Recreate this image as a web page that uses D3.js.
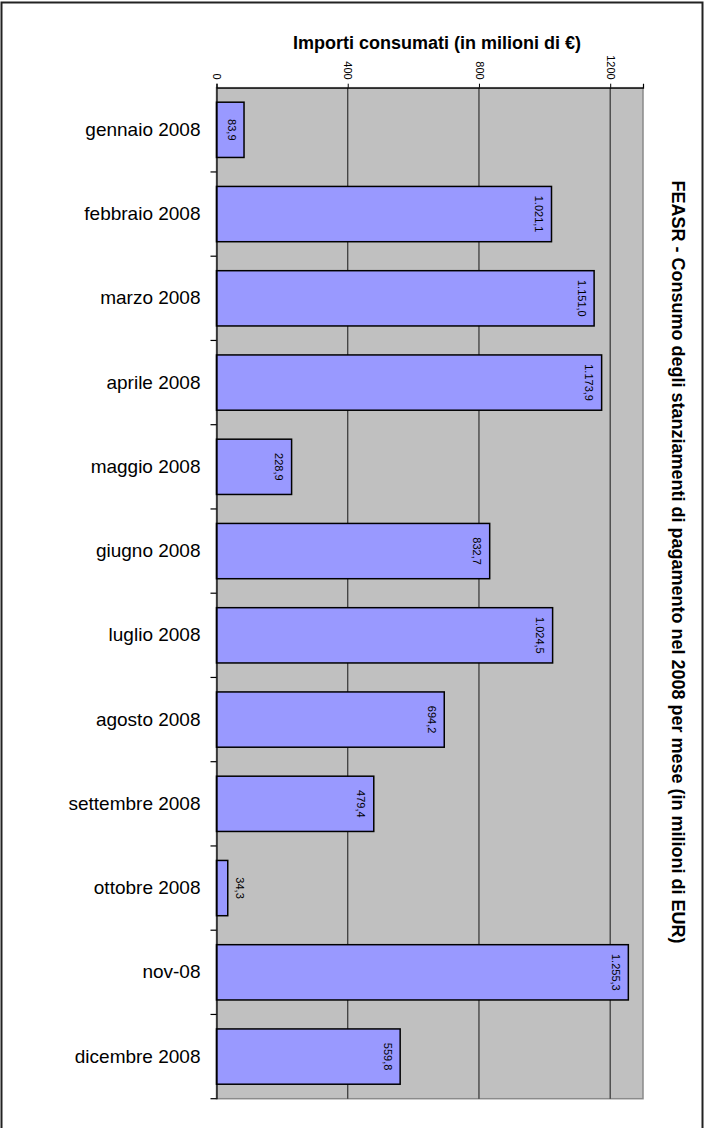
<!DOCTYPE html>
<html>
<head>
<meta charset="utf-8">
<script src="https://cdn.jsdelivr.net/npm/d3@7"></script>
<style>
  html, body { margin: 0; padding: 0; background: #fff; }
  svg { display: block; font-family: Arial, "Liberation Sans", sans-serif; }
</style>
</head>
<body>
<div id="chart-container"></div>
<script>
// dati
const months = ["gennaio 2008", "febbraio 2008", "marzo 2008", "aprile 2008", "maggio 2008",
  "giugno 2008", "luglio 2008", "agosto 2008", "settembre 2008", "ottobre 2008", "nov-08", "dicembre 2008"];
const amounts = [83.9, 1021.1, 1151.0, 1173.9, 228.9, 832.7, 1024.5, 694.2, 479.4, 34.3, 1255.3, 559.8];
const xTicks = [0, 400, 800, 1200];
const xMax = 1300;

const width = 708, height = 1128;
const plot = {left: 216.5, right: 643, top: 87.7, bottom: 1098.7};

const it = d3.formatLocale({decimal: ",", thousands: ".", grouping: [3], currency: ["", "€"]});
const fmt = it.format(",.1f");

const data = months.map((m, i) => ({month: m, value: amounts[i]}));

const svg = d3.select("#chart-container")
  .append("svg")
  .attr("width", width)
  .attr("height", height)
  .attr("viewBox", `0 0 ${width} ${height}`);

// bordo esterno
svg.append("rect")
  .attr("x", 1.5).attr("y", 2.5)
  .attr("width", 701).attr("height", 1140)
  .attr("fill", "#fff")
  .attr("stroke", "#222")
  .attr("stroke-width", 2);

const x = d3.scaleLinear().domain([0, xMax]).range([plot.left, plot.right]);
const y = d3.scaleBand()
  .domain(months)
  .range([plot.top, plot.bottom])
  .paddingInner(0.344)
  .paddingOuter(0.172);

// area del grafico
svg.append("rect")
  .attr("x", plot.left).attr("y", plot.top)
  .attr("width", plot.right - plot.left)
  .attr("height", plot.bottom - plot.top)
  .attr("fill", "#c0c0c0")
  .attr("stroke", "#8a8a8a")
  .attr("stroke-width", 1.5);

// griglia
svg.append("g")
  .selectAll("line")
  .data(xTicks.filter(d => d > 0))
  .join("line")
    .attr("x1", d => x(d)).attr("x2", d => x(d))
    .attr("y1", plot.top).attr("y2", plot.bottom)
    .attr("stroke", "#333")
    .attr("stroke-width", 1.2);

// barre
svg.append("g")
  .selectAll("rect")
  .data(data)
  .join("rect")
    .attr("x", x(0))
    .attr("y", d => y(d.month))
    .attr("width", d => x(d.value) - x(0))
    .attr("height", y.bandwidth())
    .attr("fill", "#9999ff")
    .attr("stroke", "#000")
    .attr("stroke-width", 1.5);

// etichette valori (ruotate)
svg.append("g")
  .selectAll("text")
  .data(data)
  .join("text")
    .attr("transform", d => {
      const w = x(d.value) - x(0);
      const cx = w < 20 ? x(d.value) + 12 : x(d.value) - 12.5;
      return `translate(${cx},${y(d.month) + y.bandwidth() / 2}) rotate(90)`;
    })
    .attr("text-anchor", "middle")
    .attr("dy", "0.35em")
    .style("font-size", "11px")
    .style("fill", "#000")
    .text(d => fmt(d.value));

// asse categorie (sinistra)
const yAxis = d3.axisLeft(y).tickSize(0).tickPadding(16);
const gy = svg.append("g")
  .attr("transform", `translate(${plot.left},0)`)
  .call(yAxis);
gy.select(".domain").attr("stroke", "#000").attr("stroke-width", 1.2);
gy.selectAll(".tick text")
  .style("font-size", "19px")
  .style("fill", "#000")
  .attr("font-family", "Arial, 'Liberation Sans', sans-serif");

// tacche tra le categorie
const bounds = months.map(m => y(m) - y.step() * y.paddingInner() / 2).slice(1).concat([plot.bottom]);
svg.append("g")
  .selectAll("line")
  .data(bounds)
  .join("line")
    .attr("x1", plot.left - 6).attr("x2", plot.left)
    .attr("y1", d => d).attr("y2", d => d)
    .attr("stroke", "#000")
    .attr("stroke-width", 1.2);

// asse valori (alto)
const xAxis = d3.axisTop(x).tickValues(xTicks).tickSize(4).tickFormat(d3.format("d"));
const gx = svg.append("g")
  .attr("transform", `translate(0,${plot.top})`)
  .call(xAxis);
gx.select(".domain").attr("stroke", "#000").attr("stroke-width", 1.2);
gx.selectAll(".tick line").attr("stroke", "#000");
gx.selectAll(".tick text")
  .attr("font-family", "Arial, 'Liberation Sans', sans-serif")
  .style("font-size", "11px")
  .style("fill", "#000")
  .attr("transform", "translate(0,-8) rotate(90)")
  .attr("x", 0).attr("y", 0).attr("dy", "0.35em")
  .attr("text-anchor", "end");

// titolo asse
svg.append("text")
  .attr("x", 437).attr("y", 43)
  .attr("text-anchor", "middle")
  .attr("dy", "0.35em")
  .style("font-size", "18px")
  .style("font-weight", "bold")
  .text("Importi consumati (in milioni di €)");

// titolo grafico
svg.append("text")
  .attr("transform", "translate(678,562) rotate(90)")
  .attr("text-anchor", "middle")
  .attr("dy", "0.35em")
  .style("font-size", "18px")
  .style("font-weight", "bold")
  .text("FEASR - Consumo degli stanziamenti di pagamento nel 2008 per mese (in milioni di EUR)");
</script>
</body>
</html>
